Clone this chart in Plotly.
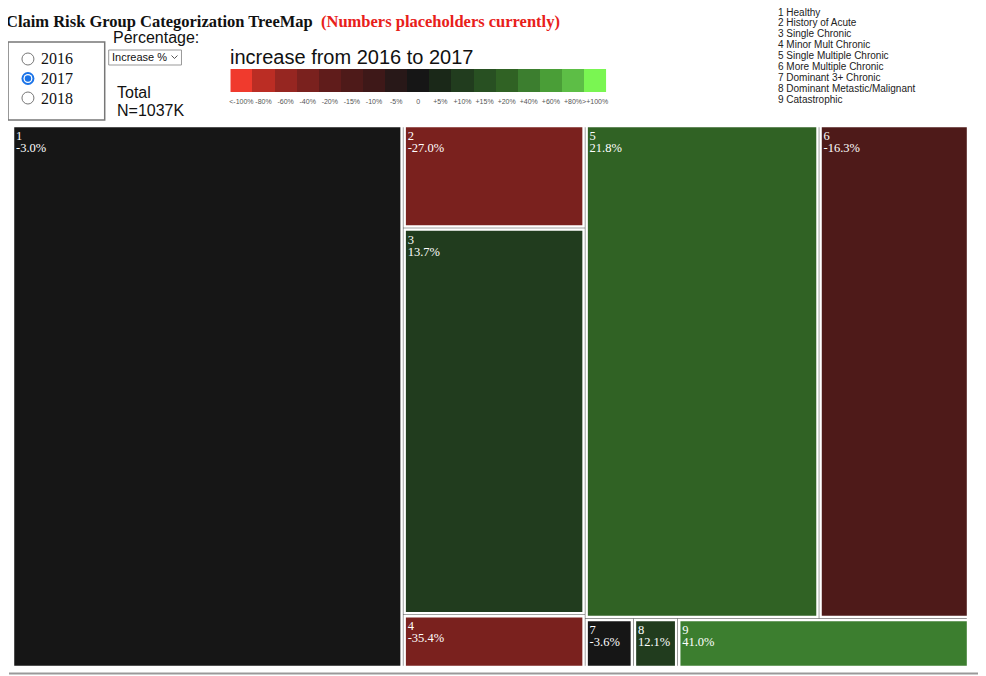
import plotly.graph_objects as go

# risk group data (placeholder numbers)
cat_ids = ["1", "2", "3", "4", "5", "6", "7", "8", "9"]
cat_names = ["Healthy", "History of Acute", "Single Chronic", "Minor Mult Chronic",
             "Single Multiple Chronic", "More Multiple Chronic", "Dominant 3+ Chronic",
             "Dominant Metastic/Malignant", "Catastrophic"]
members_k = [424, 37.5, 140, 19.5, 230, 148, 4.8, 4.4, 29]
pct_change = [-3.0, -27.0, 13.7, -35.4, 21.8, -16.3, -3.6, 12.1, 41.0]
# which box of the colour key each group is painted with
key_bin = [8, 3, 10, 3, 12, 5, 8, 10, 13]
total_k = 1037
years = ["2016", "2017", "2018"]
selected_year = "2017"

# colour key
scale_labels = ["<-100%", "-80%", "-60%", "-40%", "-20%", "-15%", "-10%", "-5%", "0",
                "+5%", "+10%", "+15%", "+20%", "+40%", "+60%", "+80%", ">+100%"]
scale_colors = ["#f03a2d", "#bb2d24", "#962621", "#7a211e", "#601c1b", "#4e1a19",
                "#3e1818", "#281818", "#161616", "#1a2818", "#213c1e", "#285022",
                "#306224", "#3c7e2f", "#4a9e37", "#5dbe46", "#7af652"]

# page is shown with the browser's 8px body margin
OFF = 8
W, H = 986 - OFF, 676 - OFF
def X(px):
    return (px - OFF) / W
def Y(py):
    return 1 - (py - OFF) / H

n = len(scale_colors)
cscale = [[i / (n - 1), c] for i, c in enumerate(scale_colors)]
scale_idx = list(range(n))

fig = go.Figure()

fig.add_trace(go.Treemap(
    ids=cat_ids,
    labels=cat_ids,
    parents=[""] * len(cat_ids),
    values=members_k,
    customdata=pct_change,
    texttemplate="<span style='font-size:12.5px'>%{label}</span><br>"
                 "<span style='font-size:12.5px'>%{customdata:.1f}%</span>",
    textposition="top left",
    textfont=dict(family="Liberation Serif", size=9.5, color="white"),
    marker=dict(colors=key_bin, colorscale=cscale, cmin=0, cmax=n - 1,
                line=dict(color="white", width=2.5),
                pad=dict(t=0, l=0, r=0, b=0)),
    tiling=dict(packing="squarify", squarifyratio=1.618),
    sort=False,
    pathbar=dict(visible=False),
    root=dict(color="white"),
    hoverinfo="skip",
    domain=dict(x=[X(12), X(970)], y=[Y(667), Y(126)]),
))

# colour key as a one-row heatmap
fig.add_trace(go.Heatmap(
    z=[scale_idx], x=scale_idx, y=[0],
    colorscale=cscale, zmin=0, zmax=n - 1,
    showscale=False, hoverinfo="skip",
))

fig.update_xaxes(domain=[X(230), X(607)], tickmode="array", tickvals=scale_idx,
                 ticktext=scale_labels, tickangle=0, ticks="", showgrid=False,
                 zeroline=False, showline=False, fixedrange=True, ticklabelstandoff=4,
                 tickfont=dict(family="Liberation Sans", size=7, color="#555"))
fig.update_yaxes(domain=[Y(92), Y(69)], visible=False, fixedrange=True)

shapes = []
annos = []

def text(x, y, s, size, family="Liberation Sans", color="#111"):
    annos.append(dict(x=X(x - 2), y=Y(y), xref="paper", yref="paper", text=s,
                      showarrow=False, xanchor="left", yanchor="middle",
                      font=dict(family=family, size=size, color=color)))

# title
text(5, 21, "<b>Claim Risk Group Categorization TreeMap</b>  "
     "<span style='color:#e8201a'><b>(Numbers placeholders currently)</b></span>",
     16.5, family="Liberation Serif")

# year radio box
shapes.append(dict(type="rect", xref="paper", yref="paper", x0=X(7), x1=X(104),
                   y0=Y(120), y1=Y(42), line=dict(color="#777", width=1.5)))
for i, yr in enumerate(years):
    cy = 59 + i * 19.5
    if yr == selected_year:
        shapes.append(dict(type="circle", xref="paper", yref="paper",
                           x0=X(20.5), x1=X(33.5), y0=Y(cy + 6.5), y1=Y(cy - 6.5),
                           fillcolor="#1a73e8", line=dict(width=0)))
        shapes.append(dict(type="circle", xref="paper", yref="paper",
                           x0=X(22.5), x1=X(31.5), y0=Y(cy + 4.5), y1=Y(cy - 4.5),
                           fillcolor="white", line=dict(width=0)))
        shapes.append(dict(type="circle", xref="paper", yref="paper",
                           x0=X(23.8), x1=X(30.2), y0=Y(cy + 3.2), y1=Y(cy - 3.2),
                           fillcolor="#1a73e8", line=dict(width=0)))
    else:
        shapes.append(dict(type="circle", xref="paper", yref="paper",
                           x0=X(21), x1=X(33), y0=Y(cy + 6), y1=Y(cy - 6),
                           fillcolor="white", line=dict(color="#777", width=1)))
    text(40, cy, yr, 16, family="Liberation Serif")

# percentage dropdown
text(112, 37.5, "Percentage:", 16)
shapes.append(dict(type="rect", xref="paper", yref="paper", x0=X(108), x1=X(181),
                   y0=Y(65), y1=Y(50), line=dict(color="#999", width=1)))
text(111, 57.5, "Increase %", 11)
shapes.append(dict(type="path", xref="paper", yref="paper",
                   path=f"M {X(171)},{Y(55.5)} L {X(174)},{Y(58.5)} L {X(177)},{Y(55.5)}",
                   line=dict(color="#555", width=1)))

text(116, 92, "Total", 16)
text(116, 110, f"N={total_k}K", 16)
text(230, 57, "increase from 2016 to 2017", 20)

# risk group key
for i, (cid, nm) in enumerate(zip(cat_ids, cat_names)):
    text(779, 12 + i * 10.9, f"{cid} {nm}", 10, color="#222")

# page edge
shapes.append(dict(type="line", xref="paper", yref="paper", x0=X(8), x1=X(984),
                   y0=Y(673.5), y1=Y(673.5), line=dict(color="#999", width=2)))
shapes.append(dict(type="line", xref="paper", yref="paper", x0=X(983), x1=X(983),
                   y0=Y(8), y1=Y(674), line=dict(color="#999", width=2.5)))

fig.update_layout(
    width=W, height=H,
    margin=dict(l=0, r=0, t=0, b=0),
    paper_bgcolor="white", plot_bgcolor="white",
    showlegend=False,
    uniformtext=dict(minsize=9, mode="show"),
    shapes=shapes,
    annotations=annos,
)

fig.write_html("out.html")
